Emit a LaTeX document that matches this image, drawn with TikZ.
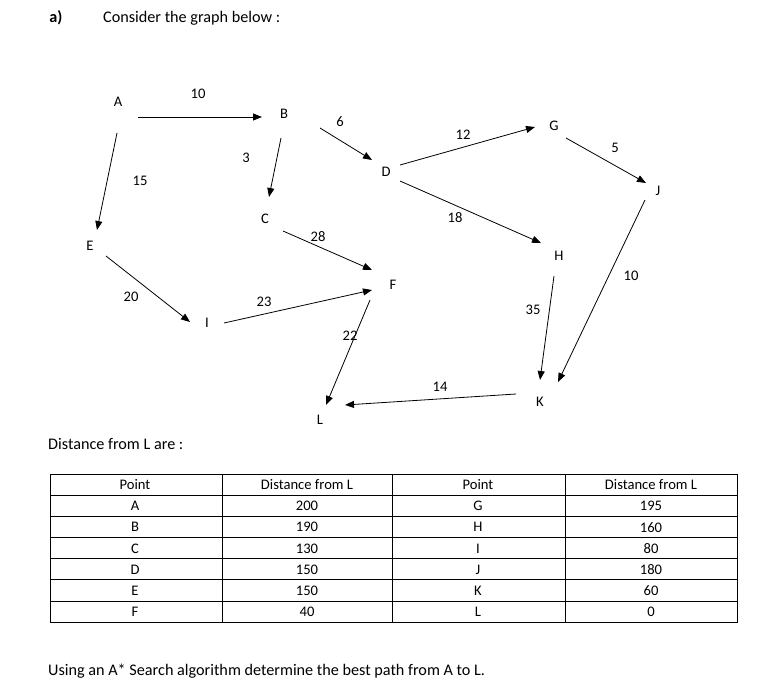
\documentclass[tikz,border=0pt]{standalone}
\usepackage{fontspec}
\setmainfont{Carlito}
\usetikzlibrary{arrows.meta}
\begin{document}
\begin{tikzpicture}[x=1pt,y=-1pt,
  every node/.style={font=\fontsize{16.2}{19}\selectfont,inner sep=0pt},
  lbl/.style={font=\fontsize{14.6}{17}\selectfont},
  arr/.style={-{Triangle[length=9pt,width=7pt]},line width=0.8pt},
  grid/.style={line width=0.6pt}]
\useasboundingbox (0,0) rectangle (782,691);
\node[font=\fontsize{16.2}{19}\selectfont\bfseries] (ta) at (56,18) {a)};
\node[anchor=west] (t1) at (103,18) {Consider the graph below :};
% vertices
\foreach \n/\x/\y in {A/118/102,B/284/114,D/386/172,G/554/126,J/658/191,E/90/246,C/265/219,H/559/256,F/393/285,I/207/323,L/320/420,K/540/402}
  \node[lbl] (\n) at (\x,\y) {\n};
% edges
\draw[arr] (138,117) -- (262,117);
\draw[arr] (117,133) -- (97,230);
\draw[arr] (281,138) -- (269,197);
\draw[arr] (320,128) -- (372,160);
\draw[arr] (400,165) -- (535,127);
\draw[arr] (566,138) -- (646,183);
\draw[arr] (400,181) -- (541,243);
\draw[arr] (283,231) -- (372,270);
\draw[arr] (106,256) -- (190,322);
\draw[arr] (224,323) -- (372,290);
\draw[arr] (370,300) -- (326,405);
\draw[arr] (554,276) -- (540,380);
\draw[arr] (645,200) -- (558,382);
\draw[arr] (516,394) -- (345,405);
% weights
\foreach \t/\x/\y [count=\i] in {10/198/94,6/340/122,12/463/135,5/615/148,3/246/158,15/140/181,18/455/218,28/318/237,10/631/276,20/131/297,23/264/302,35/533/310,22/350/336,14/440/387}
  \node[lbl] (w\i) at (\x,\y) {\t};
\node[anchor=west] (t2) at (48,444) {Distance from L are :};
% table
\draw[grid] (50,474) rectangle (737,622);
\foreach \xx in {222,392,565} \draw[grid] (\xx,474) -- (\xx,622);
\foreach \r in {1,...,6} \draw[grid] (50,474+21.14*\r) -- (737,474+21.14*\r);
\foreach \a/\b/\c/\d [count=\r from 0] in {Point/Distance from L/Point/Distance from L,A/200/G/195,B/190/H/160,C/130/I/80,D/150/J/180,E/150/K/60,F/40/L/0}{
  \node[lbl] at (135,485+21.14*\r) {\a};
  \node[lbl] at (307,485+21.14*\r) {\b};
  \node[lbl] at (478,485+21.14*\r) {\c};
  \node[lbl] at (651,485+21.14*\r) {\d};
}
\node[anchor=west] (t3) at (48,671) {Using an A* Search algorithm determine the best path from A to L.};
\end{tikzpicture}
\end{document}
